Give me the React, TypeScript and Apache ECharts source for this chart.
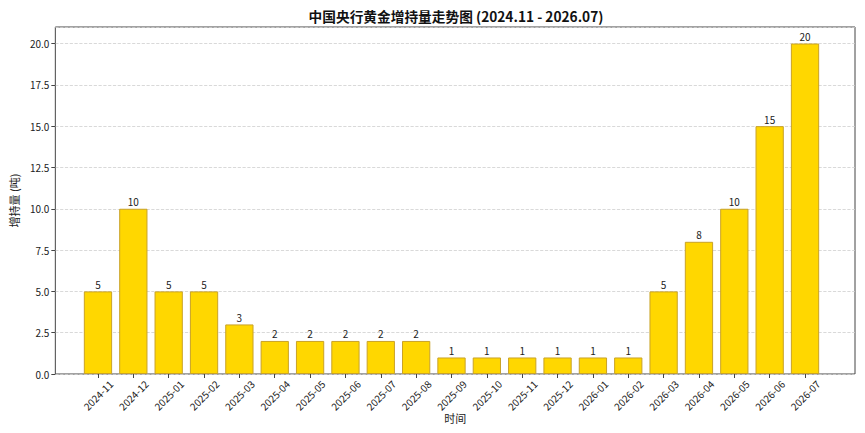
import React, { useEffect, useRef } from "react";
import * as echarts from "echarts";

const categories = [
  "2024-11", "2024-12", "2025-01", "2025-02", "2025-03", "2025-04", "2025-05",
  "2025-06", "2025-07", "2025-08", "2025-09", "2025-10", "2025-11", "2025-12",
  "2026-01", "2026-02", "2026-03", "2026-04", "2026-05", "2026-06", "2026-07",
];
const values = [5, 10, 5, 5, 3, 2, 2, 2, 2, 2, 1, 1, 1, 1, 1, 1, 5, 8, 10, 15, 20];
const yTicks = [0, 2.5, 5, 7.5, 10, 12.5, 15, 17.5, 20];

const FONT = "'Noto Sans CJK SC', 'Noto Sans', sans-serif";

export default function App() {
  const ref = useRef<HTMLDivElement>(null);
  useEffect(() => {
    if (!ref.current) return;
    const chart = echarts.init(ref.current, null, { renderer: "svg" });
    const top = 27;
    const bottom = 59;
    chart.setOption({
      animation: false,
      backgroundColor: "#fff",
      textStyle: { fontFamily: FONT },
      title: {
        text: "中国央行黄金增持量走势图 (2024.11 - 2026.07)",
        left: 451,
        textAlign: "center",
        top: 4,
        textStyle: { fontSize: 13.7, fontWeight: "bold", color: "#111", fontFamily: FONT },
      },
      grid: [
        { left: 47, right: 10, top, bottom, show: true, borderColor: "#444", borderWidth: 1, backgroundColor: "transparent" },
        { left: 80.3, right: 42.3, top, bottom },
      ],
      xAxis: [
        {
          type: "value",
          gridIndex: 0,
          min: 0,
          max: 1,
          show: true,
          axisLine: { show: false },
          axisTick: { show: false },
          axisLabel: { show: false },
          splitLine: { show: false },
          name: "时间",
          nameLocation: "middle",
          nameGap: 38,
          nameTextStyle: { fontSize: 11, color: "#222", fontFamily: FONT },
        },
        {
          type: "category",
          gridIndex: 1,
          data: categories,
          boundaryGap: true,
          axisLine: { show: false },
          axisTick: { show: true, alignWithLabel: true, length: 4, lineStyle: { color: "#444" } },
          axisLabel: {
            rotate: 45,
            fontSize: 10,
            color: "#222",
            margin: 21,
            interval: 0,
            align: "center",
            verticalAlign: "middle",
            fontFamily: FONT,
          },
          splitLine: { show: false },
        },
      ],
      yAxis: [
        {
          type: "value",
          gridIndex: 0,
          min: 0,
          max: 21,
          interval: 2.5,
          axisLine: { show: false },
          axisTick: { show: true, length: 4, lineStyle: { color: "#444" } },
          axisLabel: {
            fontSize: 10,
            color: "#222",
            margin: 6,
            showMaxLabel: false,
            fontFamily: FONT,
            formatter: (v: number) => (yTicks.includes(v) ? v.toFixed(1) : ""),
          },
          splitLine: { show: true, lineStyle: { color: "#cfcfcf", type: "dashed", width: 0.8 } },
          name: "增持量 (吨)",
          nameLocation: "middle",
          nameGap: 30,
          nameRotate: 90,
          nameTextStyle: { fontSize: 11, color: "#222", fontFamily: FONT },
        },
        {
          type: "value",
          gridIndex: 1,
          min: 0,
          max: 21,
          interval: 2.5,
          show: false,
          splitLine: { show: false },
        },
      ],
      series: [
        {
          type: "bar",
          xAxisIndex: 1,
          yAxisIndex: 1,
          data: values,
          barWidth: "80%",
          itemStyle: { color: "#FFD700", borderColor: "#C9A227", borderWidth: 1 },
          label: {
            show: true,
            position: "top",
            distance: 2,
            fontSize: 10,
            color: "#222",
            fontFamily: FONT,
          },
        },
      ],
    });
    return () => chart.dispose();
  }, []);
  return <div ref={ref} style={{ width: 865, height: 433, position: "absolute", left: 0, top: 0 }} />;
}
